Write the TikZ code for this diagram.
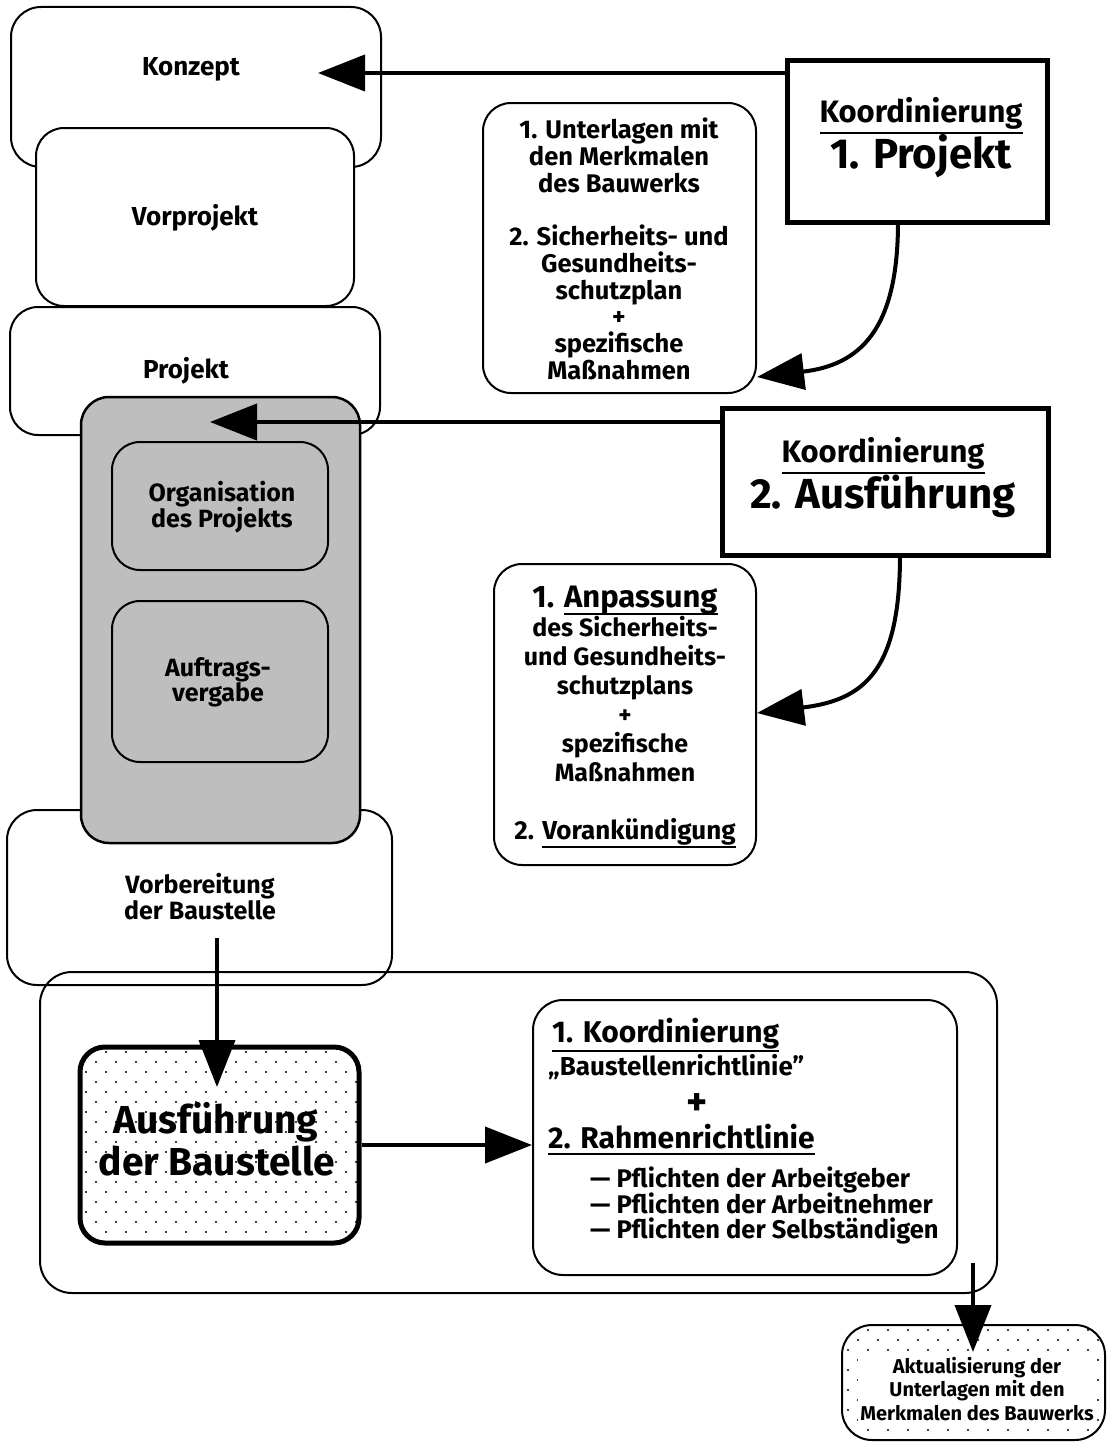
\documentclass[tikz,border=0pt]{standalone}
\usepackage{fontspec}
\setmainfont{Fira Sans}
\usetikzlibrary{arrows.meta,calc}
\definecolor{panelgray}{RGB}{190,190,190}
\newlength\ulw
\newcommand\myul[2]{\settowidth\ulw{#2}\makebox[0pt][l]{\rule[-#1]{\ulw}{2pt}}#2}
\newcommand\stipple[6]{%
  \begin{scope}
    \clip[rounded corners=#5] (#1,#2) rectangle (#3,#4);
    \foreach \j in {0,...,#6}{
      \foreach \i in {0,...,16}{
        \fill ({#1+6+20*\i+10*mod(\j,2)},{#2+5+10*\j}) circle (1.2pt);
      }
    }
  \end{scope}}
\begin{document}
\begin{tikzpicture}[x=1pt,y=-1pt,
  rbox/.style={draw, line width=2pt, fill=white, rounded corners=#1, inner sep=0pt},
  rbox/.default=28pt,
  kbox/.style={draw, line width=5pt, fill=white, inner sep=0pt},
  lbl/.style={font={\fontsize{#1}{#1}\selectfont\bfseries}, align=center, inner sep=0pt},
  arr/.style={line width=4pt, -{Triangle[length=47pt,width=36pt]}}]
\useasboundingbox (0,0) rectangle (1107,1445);
\fill[white] (0,0) rectangle (1107,1445);

% left column
\node[rbox=30pt, minimum width=370pt, minimum height=160pt] (konzept) at (196,87) {};
\node[rbox, minimum width=318pt, minimum height=178pt] (vorprojekt) at (195,217) {};
\node[rbox, minimum width=370pt, minimum height=128pt] (projekt) at (195,371) {};
\node[rbox=30pt, minimum width=385pt, minimum height=175pt] (vorbereitung) at (199.5,897.5) {};
\node[rbox, fill=panelgray, line width=2.5pt, minimum width=279pt, minimum height=446pt] (graybox) at (220.5,620) {};
\node[rbox, fill=panelgray, minimum width=216pt, minimum height=128pt] (organisation) at (220,506) {};
\node[rbox, fill=panelgray, minimum width=216pt, minimum height=161pt] (auftrag) at (220,681.5) {};

\node[lbl=26] (konzeptT) at (191,69) {Konzept};
\node[lbl=26] (vorprojektT) at (195,218) {Vorprojekt};
\node[lbl=26] (projektT) at (186,371) {Projekt};
\node[lbl=25, font={\fontsize{25}{26}\selectfont\bfseries}] (organisationT) at (222,507) {Organisation\\des Projekts};
\node[lbl=25, font={\fontsize{25}{25}\selectfont\bfseries}] (auftragT) at (218,682) {Auftrags-\\vergabe};
\node[lbl=25, font={\fontsize{25}{26}\selectfont\bfseries}] (vorbereitungT) at (200,897) {Vorbereitung\\der Baustelle};

% lower frame
\draw[line width=2pt, rounded corners=32pt] (40,972) rectangle (997,1293);
\node[rbox=25pt, line width=5pt, minimum width=279pt, minimum height=196pt] (ausf) at (219.5,1145) {};
\stipple{80}{1047}{359}{1243}{25pt}{19}
\node[lbl=39, anchor=base] (ausfA) at (216,1133) {Ausführung};
\node[lbl=39, anchor=base] (ausfB) at (217,1175) {der Baustelle};

\node[rbox=30pt, minimum width=424pt, minimum height=275pt] (rbox) at (745,1137.5) {};
\node[lbl=30, anchor=base west] (rb1) at (552,1042) {\myul{10pt}{1. Koordinierung}};
\node[lbl=26, anchor=base west] (rb2) at (548,1075) {„Baustellenrichtlinie”};
\node[lbl=40, anchor=center] (rbplus) at (697,1105) {+};
\node[lbl=30, anchor=base west] (rb3) at (548,1148) {\myul{7pt}{2. Rahmenrichtlinie}};
\node[lbl=25.5, anchor=base west] (rb4) at (590,1187) {— Pflichten der Arbeitgeber};
\node[lbl=25.5, anchor=base west] (rb5) at (590,1213) {— Pflichten der Arbeitnehmer};
\node[lbl=25.5, anchor=base west] (rb6) at (590,1238) {— Pflichten der Selbständigen};

\node[rbox=30pt, minimum width=263pt, minimum height=115pt] (aktual) at (973.5,1382.5) {};
\stipple{842}{1325}{1105}{1440}{30pt}{11}
\node[lbl=20, font={\fontsize{20}{23.5}\selectfont\bfseries}, fill=white, inner sep=2pt] (aktualT) at (977,1389) {Aktualisierung der\\Unterlagen mit den\\Merkmalen des Bauwerks};

% right column
\node[kbox, minimum width=260pt, minimum height=161pt] (koord1) at (917,141.5) {};
\node[lbl=31, anchor=base] (k1a) at (921,122) {\myul{12pt}{Koordinierung}};
\node[lbl=42, anchor=base] (k1b) at (921,168) {1. Projekt};

\node[kbox, minimum width=326pt, minimum height=147pt] (koord2) at (885,481.5) {};
\node[lbl=31, anchor=base] (k2a) at (883,462) {\myul{12pt}{Koordinierung}};
\node[lbl=42, anchor=base] (k2b) at (883,508) {2. Ausführung};

\node[rbox, minimum width=273pt, minimum height=290pt] (unterl) at (619.5,248) {};
\node[lbl=25.5, font={\fontsize{25.5}{26.7}\selectfont\bfseries}] (unterlT) at (619,249)
  {1. Unterlagen mit\\den Merkmalen\\des Bauwerks\\[26.7pt]2. Sicherheits- und\\Gesundheits-\\schutzplan\\+\\spezifische\\Maßnahmen};

\node[rbox, minimum width=262pt, minimum height=301pt] (anpass) at (625,714.5) {};
\node[lbl=25, font={\fontsize{25}{29}\selectfont\bfseries}] (anpassT) at (625,717)
  {{\fontsize{31}{29}\selectfont 1. \myul{7pt}{Anpassung}}\\des Sicherheits-\\und Gesundheits-\\schutzplans\\+\\spezifische\\Maßnahmen\\[29pt]{\fontsize{26}{29}\selectfont 2. \myul{8pt}{Vorankündigung}}};

% connectors
\coordinate (a1tip) at (318,73);
\draw[arr] (koord1.west |- a1tip) -- (a1tip);
\coordinate (a2tip) at (210,422);
\draw[arr] (koord2.west |- a2tip) -- (a2tip);
\coordinate (a3s) at (898,222);
\draw[arr] (a3s) .. controls (898,330) and (860,365) .. (unterl.east |- 0,377);
\coordinate (a4s) at (900,555);
\draw[arr] (a4s) .. controls (900,670) and (865,700) .. (anpass.east |- 0,713);
\coordinate (a5s) at (217,938);
\coordinate (a5t) at (217,1087);
\draw[arr] (a5s) -- (a5t);
\draw[arr] (ausf.east) -- (rbox.west |- ausf.east);
\coordinate (a7s) at (973,1263);
\coordinate (a7t) at (973,1352);
\draw[arr] (a7s) -- (a7t);
\end{tikzpicture}
\end{document}
